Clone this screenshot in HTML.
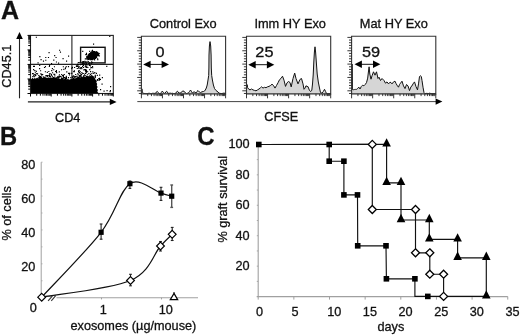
<!DOCTYPE html>
<html><head><meta charset="utf-8"><style>
html,body{margin:0;padding:0;background:#fff;}
svg{display:block;will-change:transform;}
text{font-family:"Liberation Sans", sans-serif;fill:#111;stroke:#111;stroke-width:0.3px;}
</style></head><body>
<svg width="520" height="335" viewBox="0 0 520 335">
<defs><filter id="bl" x="-5%" y="-5%" width="110%" height="110%"><feGaussianBlur stdDeviation="0.5"/></filter></defs>
<text x="1" y="19" font-size="25" text-anchor="start" font-weight="bold" >A</text>
<text transform="translate(11.2,66.2) rotate(-90)" font-size="12.7" text-anchor="middle">CD45.1</text>
<line x1="19.5" y1="38" x2="19.5" y2="98.3" stroke="#222" stroke-width="1.1"/>
<path d="M19.5,31.9 L16.2,38.9 L22.8,38.9 Z" fill="#000" stroke="none" stroke-width="1"/>
<line x1="27.9" y1="101.9" x2="110.5" y2="101.9" stroke="#222" stroke-width="1.1"/>
<path d="M116.6,101.9 L109.8,98.7 L109.8,105.1 Z" fill="#000" stroke="none" stroke-width="1"/>
<text x="67.7" y="121.8" font-size="12.7" text-anchor="middle" font-weight="normal" >CD4</text>
<line x1="30.5" y1="64.4" x2="113.3" y2="64.4" stroke="#222" stroke-width="1.1"/>
<line x1="71.9" y1="35.4" x2="71.9" y2="93.5" stroke="#222" stroke-width="1.1"/>
<path d="M31,93.5 L31,79.24 L32,78.47 L33,79.12 L34,79.03 L35,79.06 L36,78.38 L37,77.81 L38,78.18 L39,78.37 L40,77.33 L41,76.97 L42,77.24 L43,78.33 L44,77.07 L45,77.18 L46,77.14 L47,78.15 L48,77.34 L49,77.67 L50,77.59 L51,77.35 L52,77.91 L53,77.67 L54,77.92 L55,77.73 L56,77.42 L57,78.37 L58,78.03 L59,78.17 L60,79.13 L61,78.57 L62,78.36 L63,79.26 L64,79.29 L65,78.78 L66,79.11 L67,79.4 L68,78.85 L69,79.76 L70,79.42 L71,78.85 L72,79.26 L73,77.87 L74,77.97 L75,78.78 L76,78.09 L77,77.5 L78,77.94 L79,78.04 L80,77.74 L81,76.88 L82,76.79 L83,77.23 L84,76.6 L85,76.62 L86,77.13 L87,76.58 L88,75.82 L89,76.63 L90,75.62 L91,76.27 L92,75.82 L93.09,76 L93.64,77 L94.82,78 L95.06,79 L95.91,80 L97.1,81 L96.27,82 L96.64,83 L97.25,84 L96.78,85 L96.95,86 L97.82,87 L96.94,88 L97.1,89 L98.1,90 L97.35,91 L97.52,92 L98.39,93 L97.91,93.5 Z" fill="#000" stroke="none" stroke-width="1"/>
<path d="M109.2,35.79h1.15v1.15h-1.15zM91.89,49.72h1.15v1.15h-1.15zM82.17,50.85h1.15v1.15h-1.15zM89.12,50.78h1.15v1.15h-1.15zM91.01,50.72h1.15v1.15h-1.15zM92.21,50.75h1.15v1.15h-1.15zM93.16,51.06h1.15v1.15h-1.15zM94.08,50.97h1.15v1.15h-1.15zM96.15,51.08h1.15v1.15h-1.15zM90.06,52.22h1.15v1.15h-1.15zM90.7,52.01h1.15v1.15h-1.15zM92.16,51.74h1.15v1.15h-1.15zM93.19,51.98h1.15v1.15h-1.15zM94.28,51.89h1.15v1.15h-1.15zM94.94,51.79h1.15v1.15h-1.15zM96.04,52.27h1.15v1.15h-1.15zM97.09,51.89h1.15v1.15h-1.15zM85.9,52.82h1.15v1.15h-1.15zM88.8,52.99h1.15v1.15h-1.15zM90.15,52.96h1.15v1.15h-1.15zM90.91,53.29h1.15v1.15h-1.15zM91.77,53.18h1.15v1.15h-1.15zM93.17,52.71h1.15v1.15h-1.15zM93.8,52.97h1.15v1.15h-1.15zM95,52.8h1.15v1.15h-1.15zM95.87,52.73h1.15v1.15h-1.15zM96.78,52.98h1.15v1.15h-1.15zM98.05,52.87h1.15v1.15h-1.15zM98.9,53.15h1.15v1.15h-1.15zM85.25,54.07h1.15v1.15h-1.15zM86.04,53.98h1.15v1.15h-1.15zM88.11,54.3h1.15v1.15h-1.15zM89.19,53.95h1.15v1.15h-1.15zM90.24,54.3h1.15v1.15h-1.15zM90.97,54.27h1.15v1.15h-1.15zM93.26,53.94h1.15v1.15h-1.15zM94.15,53.98h1.15v1.15h-1.15zM94.93,53.96h1.15v1.15h-1.15zM95.74,54.15h1.15v1.15h-1.15zM97.1,54.18h1.15v1.15h-1.15zM97.84,53.87h1.15v1.15h-1.15zM89.01,55.06h1.15v1.15h-1.15zM89.9,54.9h1.15v1.15h-1.15zM90.72,55.03h1.15v1.15h-1.15zM91.82,54.9h1.15v1.15h-1.15zM92.72,55.26h1.15v1.15h-1.15zM93.82,55.13h1.15v1.15h-1.15zM94.85,55.28h1.15v1.15h-1.15zM96.08,54.76h1.15v1.15h-1.15zM96.72,54.83h1.15v1.15h-1.15zM97.78,55.08h1.15v1.15h-1.15zM98.79,55.24h1.15v1.15h-1.15zM86.22,55.94h1.15v1.15h-1.15zM87,55.7h1.15v1.15h-1.15zM87.82,56.13h1.15v1.15h-1.15zM89.22,56.24h1.15v1.15h-1.15zM89.87,56.26h1.15v1.15h-1.15zM90.76,55.73h1.15v1.15h-1.15zM92.73,56.01h1.15v1.15h-1.15zM93.96,56.27h1.15v1.15h-1.15zM95.79,55.94h1.15v1.15h-1.15zM86.18,56.87h1.15v1.15h-1.15zM86.9,57.06h1.15v1.15h-1.15zM89.18,57.03h1.15v1.15h-1.15zM89.91,56.74h1.15v1.15h-1.15zM91.07,56.76h1.15v1.15h-1.15zM92.28,57.29h1.15v1.15h-1.15zM93.18,56.81h1.15v1.15h-1.15zM95.22,57.23h1.15v1.15h-1.15zM96.01,56.82h1.15v1.15h-1.15zM84.78,58.29h1.15v1.15h-1.15zM85.88,58.28h1.15v1.15h-1.15zM86.8,57.83h1.15v1.15h-1.15zM87.98,58.06h1.15v1.15h-1.15zM88.77,58.19h1.15v1.15h-1.15zM90.04,57.78h1.15v1.15h-1.15zM91.08,57.96h1.15v1.15h-1.15zM91.93,58.01h1.15v1.15h-1.15zM93.04,58.16h1.15v1.15h-1.15zM93.85,58.3h1.15v1.15h-1.15zM94.95,57.95h1.15v1.15h-1.15zM97.08,58.13h1.15v1.15h-1.15zM87.22,59.09h1.15v1.15h-1.15zM88.17,58.87h1.15v1.15h-1.15zM89.77,59.15h1.15v1.15h-1.15zM90.79,59.01h1.15v1.15h-1.15zM92.03,59.15h1.15v1.15h-1.15zM94.06,59.29h1.15v1.15h-1.15zM97.22,59.05h1.15v1.15h-1.15zM79.99,61h1.15v1.15h-1.15zM82.01,61.25h1.15v1.15h-1.15zM82.86,61.03h1.15v1.15h-1.15zM84.26,60.75h1.15v1.15h-1.15zM84.75,61.13h1.15v1.15h-1.15zM86.24,61.24h1.15v1.15h-1.15zM87.7,60.93h1.15v1.15h-1.15zM91.12,61.25h1.15v1.15h-1.15zM77.76,62h1.15v1.15h-1.15zM79,62.14h1.15v1.15h-1.15zM81.84,62.24h1.15v1.15h-1.15zM83.02,61.73h1.15v1.15h-1.15zM84.95,62.03h1.15v1.15h-1.15zM88.75,62.12h1.15v1.15h-1.15zM91.16,61.81h1.15v1.15h-1.15zM92.01,62.07h1.15v1.15h-1.15zM82.12,62.86h1.15v1.15h-1.15zM83.11,62.82h1.15v1.15h-1.15zM84.17,63.19h1.15v1.15h-1.15zM86.09,62.75h1.15v1.15h-1.15zM88.07,62.97h1.15v1.15h-1.15zM89.14,62.98h1.15v1.15h-1.15zM90.75,63.03h1.15v1.15h-1.15zM77,63.83h1.15v1.15h-1.15zM77.74,64.09h1.15v1.15h-1.15zM79.76,64.07h1.15v1.15h-1.15zM81.23,63.77h1.15v1.15h-1.15zM82,63.77h1.15v1.15h-1.15zM82.87,64.13h1.15v1.15h-1.15zM85.17,63.78h1.15v1.15h-1.15zM85.96,63.87h1.15v1.15h-1.15zM88.88,64.19h1.15v1.15h-1.15zM39.12,64.97h1.15v1.15h-1.15zM48.98,64.84h1.15v1.15h-1.15zM75.94,65.27h1.15v1.15h-1.15zM77.15,65.22h1.15v1.15h-1.15zM82.88,64.88h1.15v1.15h-1.15zM84.84,65.26h1.15v1.15h-1.15zM86.28,65.21h1.15v1.15h-1.15zM88.76,64.76h1.15v1.15h-1.15zM89.94,65.25h1.15v1.15h-1.15zM33,65.84h1.15v1.15h-1.15zM33.82,65.85h1.15v1.15h-1.15zM44.87,65.99h1.15v1.15h-1.15zM48.81,65.89h1.15v1.15h-1.15zM53.88,66.18h1.15v1.15h-1.15zM62.78,66.21h1.15v1.15h-1.15zM65.92,66.18h1.15v1.15h-1.15zM67.94,66.08h1.15v1.15h-1.15zM75.84,65.74h1.15v1.15h-1.15zM76.82,65.95h1.15v1.15h-1.15zM77.92,66.19h1.15v1.15h-1.15zM78.76,66.18h1.15v1.15h-1.15zM82.03,65.83h1.15v1.15h-1.15zM84.71,66.23h1.15v1.15h-1.15zM86.09,66.21h1.15v1.15h-1.15zM91.99,65.9h1.15v1.15h-1.15zM106.2,65.87h1.15v1.15h-1.15zM43.94,66.97h1.15v1.15h-1.15zM64.94,66.71h1.15v1.15h-1.15zM71.82,66.86h1.15v1.15h-1.15zM74.02,66.91h1.15v1.15h-1.15zM78.12,67.14h1.15v1.15h-1.15zM80.27,67.05h1.15v1.15h-1.15zM80.96,67.01h1.15v1.15h-1.15zM82.86,66.92h1.15v1.15h-1.15zM85.97,66.82h1.15v1.15h-1.15zM87.29,66.88h1.15v1.15h-1.15zM90.24,67.26h1.15v1.15h-1.15zM90.95,66.92h1.15v1.15h-1.15zM92.1,67.17h1.15v1.15h-1.15zM39.05,68h1.15v1.15h-1.15zM51.82,68.02h1.15v1.15h-1.15zM64.82,68.1h1.15v1.15h-1.15zM71.23,67.76h1.15v1.15h-1.15zM76.72,67.97h1.15v1.15h-1.15zM78.28,67.7h1.15v1.15h-1.15zM79.71,68h1.15v1.15h-1.15zM81.24,68.11h1.15v1.15h-1.15zM33.06,69.03h1.15v1.15h-1.15zM53.14,69.18h1.15v1.15h-1.15zM60.96,69.13h1.15v1.15h-1.15zM63.27,68.85h1.15v1.15h-1.15zM83.29,69.28h1.15v1.15h-1.15zM84.27,69.02h1.15v1.15h-1.15zM85.19,68.96h1.15v1.15h-1.15zM89.19,69.12h1.15v1.15h-1.15zM34.28,70h1.15v1.15h-1.15zM40.02,70.15h1.15v1.15h-1.15zM51.16,69.98h1.15v1.15h-1.15zM55.87,69.99h1.15v1.15h-1.15zM73.8,70.16h1.15v1.15h-1.15zM78.15,70.14h1.15v1.15h-1.15zM78.86,70.18h1.15v1.15h-1.15zM85,69.84h1.15v1.15h-1.15zM85.93,69.74h1.15v1.15h-1.15zM35.74,70.84h1.15v1.15h-1.15zM44.82,71.17h1.15v1.15h-1.15zM48.24,70.93h1.15v1.15h-1.15zM55.06,70.91h1.15v1.15h-1.15zM55.78,70.99h1.15v1.15h-1.15zM58.71,71.3h1.15v1.15h-1.15zM66.2,71.29h1.15v1.15h-1.15zM73.17,71.1h1.15v1.15h-1.15zM73.74,71.14h1.15v1.15h-1.15zM77.96,70.77h1.15v1.15h-1.15zM79.81,71.16h1.15v1.15h-1.15zM85.12,70.77h1.15v1.15h-1.15zM85.97,70.77h1.15v1.15h-1.15zM87.09,71.15h1.15v1.15h-1.15zM90.01,71.05h1.15v1.15h-1.15zM92.25,71.29h1.15v1.15h-1.15zM34.77,72.21h1.15v1.15h-1.15zM46.75,71.81h1.15v1.15h-1.15zM51.98,72.22h1.15v1.15h-1.15zM56.08,71.99h1.15v1.15h-1.15zM78.29,72.18h1.15v1.15h-1.15zM78.85,72.04h1.15v1.15h-1.15zM81.28,71.91h1.15v1.15h-1.15zM85.75,72.08h1.15v1.15h-1.15zM94.22,72.12h1.15v1.15h-1.15zM31.99,73.06h1.15v1.15h-1.15zM32.88,73.24h1.15v1.15h-1.15zM36.16,72.97h1.15v1.15h-1.15zM36.99,73.25h1.15v1.15h-1.15zM40.24,73.29h1.15v1.15h-1.15zM48.85,73.27h1.15v1.15h-1.15zM50.14,73.17h1.15v1.15h-1.15zM68.02,72.77h1.15v1.15h-1.15zM69.16,72.74h1.15v1.15h-1.15zM71.21,72.75h1.15v1.15h-1.15zM77.1,73.15h1.15v1.15h-1.15zM79.75,73.16h1.15v1.15h-1.15zM81.71,73.02h1.15v1.15h-1.15zM83.15,72.9h1.15v1.15h-1.15zM85,72.76h1.15v1.15h-1.15zM88.28,73.11h1.15v1.15h-1.15zM91.27,72.88h1.15v1.15h-1.15zM93.14,72.87h1.15v1.15h-1.15zM95.83,72.76h1.15v1.15h-1.15zM34.16,74.02h1.15v1.15h-1.15zM35.29,74.27h1.15v1.15h-1.15zM41.07,73.74h1.15v1.15h-1.15zM42.13,73.91h1.15v1.15h-1.15zM50.86,73.93h1.15v1.15h-1.15zM53.22,73.72h1.15v1.15h-1.15zM54.16,73.83h1.15v1.15h-1.15zM58.86,74.29h1.15v1.15h-1.15zM61.12,73.93h1.15v1.15h-1.15zM63.71,73.88h1.15v1.15h-1.15zM68.91,74.24h1.15v1.15h-1.15zM75.09,73.93h1.15v1.15h-1.15zM77.71,74.16h1.15v1.15h-1.15zM80.84,74.06h1.15v1.15h-1.15zM84.06,74.27h1.15v1.15h-1.15zM86.86,74.22h1.15v1.15h-1.15zM89.87,73.84h1.15v1.15h-1.15zM33.2,75.03h1.15v1.15h-1.15zM34.98,75.12h1.15v1.15h-1.15zM38.2,75.04h1.15v1.15h-1.15zM41.25,75.23h1.15v1.15h-1.15zM45.16,75.23h1.15v1.15h-1.15zM46.15,75.12h1.15v1.15h-1.15zM47.25,74.99h1.15v1.15h-1.15zM47.72,75.17h1.15v1.15h-1.15zM49.01,74.82h1.15v1.15h-1.15zM51.18,75.1h1.15v1.15h-1.15zM54.23,75.26h1.15v1.15h-1.15zM61.96,75h1.15v1.15h-1.15zM62.94,74.87h1.15v1.15h-1.15zM72.71,75.28h1.15v1.15h-1.15zM78.97,75.1h1.15v1.15h-1.15zM80.13,74.86h1.15v1.15h-1.15zM83.29,75.08h1.15v1.15h-1.15zM84.77,75.13h1.15v1.15h-1.15zM89.23,75.23h1.15v1.15h-1.15zM91.12,74.85h1.15v1.15h-1.15zM94.7,74.82h1.15v1.15h-1.15zM96.74,74.85h1.15v1.15h-1.15zM32.22,76.07h1.15v1.15h-1.15zM33.81,76.21h1.15v1.15h-1.15zM39.07,75.87h1.15v1.15h-1.15zM39.98,76.04h1.15v1.15h-1.15zM43.19,76.22h1.15v1.15h-1.15zM46.76,75.86h1.15v1.15h-1.15zM48.95,75.94h1.15v1.15h-1.15zM49.76,75.73h1.15v1.15h-1.15zM51.97,76.26h1.15v1.15h-1.15zM56.93,76.27h1.15v1.15h-1.15zM58.27,75.81h1.15v1.15h-1.15zM59.24,75.95h1.15v1.15h-1.15zM60.26,75.83h1.15v1.15h-1.15zM62.84,76.01h1.15v1.15h-1.15zM65.73,75.79h1.15v1.15h-1.15zM71.85,76.3h1.15v1.15h-1.15zM73.27,76h1.15v1.15h-1.15zM73.7,75.83h1.15v1.15h-1.15zM74.96,75.97h1.15v1.15h-1.15zM75.98,75.72h1.15v1.15h-1.15zM77.28,75.72h1.15v1.15h-1.15zM79.12,75.9h1.15v1.15h-1.15zM80.01,76.25h1.15v1.15h-1.15zM80.75,75.72h1.15v1.15h-1.15zM82.77,76.06h1.15v1.15h-1.15zM85.94,75.86h1.15v1.15h-1.15zM87.28,75.98h1.15v1.15h-1.15zM93.23,76.29h1.15v1.15h-1.15zM94.81,76.02h1.15v1.15h-1.15zM37.83,77.14h1.15v1.15h-1.15zM39.02,76.86h1.15v1.15h-1.15zM40.2,77.1h1.15v1.15h-1.15zM40.86,77.18h1.15v1.15h-1.15zM43.22,77.12h1.15v1.15h-1.15zM52.98,77.06h1.15v1.15h-1.15zM54.17,77.13h1.15v1.15h-1.15zM55.98,77.25h1.15v1.15h-1.15zM57.2,76.95h1.15v1.15h-1.15zM57.87,76.83h1.15v1.15h-1.15zM58.8,77.2h1.15v1.15h-1.15zM60.73,76.7h1.15v1.15h-1.15zM63.11,76.88h1.15v1.15h-1.15zM63.85,77.11h1.15v1.15h-1.15zM65.22,77.04h1.15v1.15h-1.15zM65.83,77.09h1.15v1.15h-1.15zM67.9,76.98h1.15v1.15h-1.15zM70.2,77.08h1.15v1.15h-1.15zM72.11,76.99h1.15v1.15h-1.15zM73.89,77.22h1.15v1.15h-1.15zM75.21,77.26h1.15v1.15h-1.15zM77.15,77.1h1.15v1.15h-1.15zM78.22,76.99h1.15v1.15h-1.15zM78.74,76.84h1.15v1.15h-1.15zM94.71,77.07h1.15v1.15h-1.15zM101.79,77.05h1.15v1.15h-1.15zM32.13,78.08h1.15v1.15h-1.15zM34.23,77.93h1.15v1.15h-1.15zM60.97,78.08h1.15v1.15h-1.15zM62.02,77.76h1.15v1.15h-1.15zM63.07,78.28h1.15v1.15h-1.15zM64.79,78.01h1.15v1.15h-1.15zM65.93,78.16h1.15v1.15h-1.15zM97.97,78.17h1.15v1.15h-1.15zM99.06,77.73h1.15v1.15h-1.15zM96.85,79.07h1.15v1.15h-1.15zM99.04,79.08h1.15v1.15h-1.15zM99.86,78.88h1.15v1.15h-1.15zM97.17,79.74h1.15v1.15h-1.15zM110.02,86.08h1.15v1.15h-1.15zM109.86,90.06h1.15v1.15h-1.15zM35.8,36.7h1.15v1.15h-1.15zM39.3,56h1.15v1.15h-1.15zM45.2,56.9h1.15v1.15h-1.15zM47.9,56.9h1.15v1.15h-1.15zM42.9,60.6h1.15v1.15h-1.15zM45.2,59.7h1.15v1.15h-1.15zM54.1,55.1h1.15v1.15h-1.15zM55.5,56.9h1.15v1.15h-1.15zM53.2,59.6h1.15v1.15h-1.15zM59,49.7h1.15v1.15h-1.15zM59.9,51.5h1.15v1.15h-1.15zM55.9,61.4h1.15v1.15h-1.15zM51,63.1h1.15v1.15h-1.15zM37.5,62.3h1.15v1.15h-1.15zM62.5,58h1.15v1.15h-1.15zM66,60.5h1.15v1.15h-1.15zM48.5,52h1.15v1.15h-1.15zM68,55.5h1.15v1.15h-1.15zM40.5,59h1.15v1.15h-1.15zM58,62.5h1.15v1.15h-1.15zM93,43.5h1.15v1.15h-1.15zM100,89h1.15v1.15h-1.15zM103.5,90.5h1.15v1.15h-1.15zM106.5,90h1.15v1.15h-1.15zM109.5,91h1.15v1.15h-1.15zM98.7,79.5h1.15v1.15h-1.15zM99.1,74.5h1.15v1.15h-1.15zM101.5,83.5h1.15v1.15h-1.15z" fill="#000" filter="url(#bl)"/>
<ellipse cx="92.6" cy="55.7" rx="5.7" ry="3.8" transform="rotate(-25 92.6 55.7)" fill="#000"/>
<rect x="30.5" y="35.4" width="82.8" height="58.1" fill="none" stroke="#222" stroke-width="1.1"/>
<rect x="80.6" y="47.3" width="24.5" height="15.6" fill="none" stroke="#111" stroke-width="1.4"/>
<line x1="27.5" y1="93.5" x2="30.5" y2="93.5" stroke="#000" stroke-width="1.0"/>
<line x1="28.2" y1="89.13" x2="30.5" y2="89.13" stroke="#000" stroke-width="1.0"/>
<line x1="28.2" y1="86.57" x2="30.5" y2="86.57" stroke="#000" stroke-width="1.0"/>
<line x1="28.2" y1="84.76" x2="30.5" y2="84.76" stroke="#000" stroke-width="1.0"/>
<line x1="28.2" y1="83.35" x2="30.5" y2="83.35" stroke="#000" stroke-width="1.0"/>
<line x1="28.2" y1="82.2" x2="30.5" y2="82.2" stroke="#000" stroke-width="1.0"/>
<line x1="28.2" y1="81.22" x2="30.5" y2="81.22" stroke="#000" stroke-width="1.0"/>
<line x1="28.2" y1="80.38" x2="30.5" y2="80.38" stroke="#000" stroke-width="1.0"/>
<line x1="28.2" y1="79.64" x2="30.5" y2="79.64" stroke="#000" stroke-width="1.0"/>
<line x1="27.5" y1="78.97" x2="30.5" y2="78.97" stroke="#000" stroke-width="1.0"/>
<line x1="28.2" y1="74.6" x2="30.5" y2="74.6" stroke="#000" stroke-width="1.0"/>
<line x1="28.2" y1="72.04" x2="30.5" y2="72.04" stroke="#000" stroke-width="1.0"/>
<line x1="28.2" y1="70.23" x2="30.5" y2="70.23" stroke="#000" stroke-width="1.0"/>
<line x1="28.2" y1="68.82" x2="30.5" y2="68.82" stroke="#000" stroke-width="1.0"/>
<line x1="28.2" y1="67.67" x2="30.5" y2="67.67" stroke="#000" stroke-width="1.0"/>
<line x1="28.2" y1="66.7" x2="30.5" y2="66.7" stroke="#000" stroke-width="1.0"/>
<line x1="28.2" y1="65.86" x2="30.5" y2="65.86" stroke="#000" stroke-width="1.0"/>
<line x1="28.2" y1="65.11" x2="30.5" y2="65.11" stroke="#000" stroke-width="1.0"/>
<line x1="27.5" y1="64.45" x2="30.5" y2="64.45" stroke="#000" stroke-width="1.0"/>
<line x1="28.2" y1="60.08" x2="30.5" y2="60.08" stroke="#000" stroke-width="1.0"/>
<line x1="28.2" y1="57.52" x2="30.5" y2="57.52" stroke="#000" stroke-width="1.0"/>
<line x1="28.2" y1="55.71" x2="30.5" y2="55.71" stroke="#000" stroke-width="1.0"/>
<line x1="28.2" y1="54.3" x2="30.5" y2="54.3" stroke="#000" stroke-width="1.0"/>
<line x1="28.2" y1="53.15" x2="30.5" y2="53.15" stroke="#000" stroke-width="1.0"/>
<line x1="28.2" y1="52.17" x2="30.5" y2="52.17" stroke="#000" stroke-width="1.0"/>
<line x1="28.2" y1="51.33" x2="30.5" y2="51.33" stroke="#000" stroke-width="1.0"/>
<line x1="28.2" y1="50.59" x2="30.5" y2="50.59" stroke="#000" stroke-width="1.0"/>
<line x1="27.5" y1="49.92" x2="30.5" y2="49.92" stroke="#000" stroke-width="1.0"/>
<line x1="28.2" y1="45.55" x2="30.5" y2="45.55" stroke="#000" stroke-width="1.0"/>
<line x1="28.2" y1="42.99" x2="30.5" y2="42.99" stroke="#000" stroke-width="1.0"/>
<line x1="28.2" y1="41.18" x2="30.5" y2="41.18" stroke="#000" stroke-width="1.0"/>
<line x1="28.2" y1="39.77" x2="30.5" y2="39.77" stroke="#000" stroke-width="1.0"/>
<line x1="28.2" y1="38.62" x2="30.5" y2="38.62" stroke="#000" stroke-width="1.0"/>
<line x1="28.2" y1="37.65" x2="30.5" y2="37.65" stroke="#000" stroke-width="1.0"/>
<line x1="28.2" y1="36.81" x2="30.5" y2="36.81" stroke="#000" stroke-width="1.0"/>
<line x1="28.2" y1="36.06" x2="30.5" y2="36.06" stroke="#000" stroke-width="1.0"/>
<line x1="27.5" y1="35.4" x2="30.5" y2="35.4" stroke="#000" stroke-width="1.0"/>
<line x1="30.5" y1="93.5" x2="30.5" y2="96.5" stroke="#000" stroke-width="1.0"/>
<line x1="36.73" y1="93.5" x2="36.73" y2="95.7" stroke="#000" stroke-width="1.0"/>
<line x1="40.38" y1="93.5" x2="40.38" y2="95.7" stroke="#000" stroke-width="1.0"/>
<line x1="42.96" y1="93.5" x2="42.96" y2="95.7" stroke="#000" stroke-width="1.0"/>
<line x1="44.97" y1="93.5" x2="44.97" y2="95.7" stroke="#000" stroke-width="1.0"/>
<line x1="46.61" y1="93.5" x2="46.61" y2="95.7" stroke="#000" stroke-width="1.0"/>
<line x1="47.99" y1="93.5" x2="47.99" y2="95.7" stroke="#000" stroke-width="1.0"/>
<line x1="49.19" y1="93.5" x2="49.19" y2="95.7" stroke="#000" stroke-width="1.0"/>
<line x1="50.25" y1="93.5" x2="50.25" y2="95.7" stroke="#000" stroke-width="1.0"/>
<line x1="51.2" y1="93.5" x2="51.2" y2="96.5" stroke="#000" stroke-width="1.0"/>
<line x1="57.43" y1="93.5" x2="57.43" y2="95.7" stroke="#000" stroke-width="1.0"/>
<line x1="61.08" y1="93.5" x2="61.08" y2="95.7" stroke="#000" stroke-width="1.0"/>
<line x1="63.66" y1="93.5" x2="63.66" y2="95.7" stroke="#000" stroke-width="1.0"/>
<line x1="65.67" y1="93.5" x2="65.67" y2="95.7" stroke="#000" stroke-width="1.0"/>
<line x1="67.31" y1="93.5" x2="67.31" y2="95.7" stroke="#000" stroke-width="1.0"/>
<line x1="68.69" y1="93.5" x2="68.69" y2="95.7" stroke="#000" stroke-width="1.0"/>
<line x1="69.89" y1="93.5" x2="69.89" y2="95.7" stroke="#000" stroke-width="1.0"/>
<line x1="70.95" y1="93.5" x2="70.95" y2="95.7" stroke="#000" stroke-width="1.0"/>
<line x1="71.9" y1="93.5" x2="71.9" y2="96.5" stroke="#000" stroke-width="1.0"/>
<line x1="78.13" y1="93.5" x2="78.13" y2="95.7" stroke="#000" stroke-width="1.0"/>
<line x1="81.78" y1="93.5" x2="81.78" y2="95.7" stroke="#000" stroke-width="1.0"/>
<line x1="84.36" y1="93.5" x2="84.36" y2="95.7" stroke="#000" stroke-width="1.0"/>
<line x1="86.37" y1="93.5" x2="86.37" y2="95.7" stroke="#000" stroke-width="1.0"/>
<line x1="88.01" y1="93.5" x2="88.01" y2="95.7" stroke="#000" stroke-width="1.0"/>
<line x1="89.39" y1="93.5" x2="89.39" y2="95.7" stroke="#000" stroke-width="1.0"/>
<line x1="90.59" y1="93.5" x2="90.59" y2="95.7" stroke="#000" stroke-width="1.0"/>
<line x1="91.65" y1="93.5" x2="91.65" y2="95.7" stroke="#000" stroke-width="1.0"/>
<line x1="92.6" y1="93.5" x2="92.6" y2="96.5" stroke="#000" stroke-width="1.0"/>
<line x1="98.83" y1="93.5" x2="98.83" y2="95.7" stroke="#000" stroke-width="1.0"/>
<line x1="102.48" y1="93.5" x2="102.48" y2="95.7" stroke="#000" stroke-width="1.0"/>
<line x1="105.06" y1="93.5" x2="105.06" y2="95.7" stroke="#000" stroke-width="1.0"/>
<line x1="107.07" y1="93.5" x2="107.07" y2="95.7" stroke="#000" stroke-width="1.0"/>
<line x1="108.71" y1="93.5" x2="108.71" y2="95.7" stroke="#000" stroke-width="1.0"/>
<line x1="110.09" y1="93.5" x2="110.09" y2="95.7" stroke="#000" stroke-width="1.0"/>
<line x1="111.29" y1="93.5" x2="111.29" y2="95.7" stroke="#000" stroke-width="1.0"/>
<line x1="112.35" y1="93.5" x2="112.35" y2="95.7" stroke="#000" stroke-width="1.0"/>
<line x1="113.3" y1="93.5" x2="113.3" y2="96.5" stroke="#000" stroke-width="1.0"/>
<text x="183.1" y="28.4" font-size="12.8" text-anchor="middle" font-weight="normal" >Control Exo</text>
<text transform="translate(160,56.9) scale(1.05,1)" font-size="15.5" text-anchor="middle">0</text>
<path d="M142.1,88.8 L142.3,92 L143.8,93.7 L144.76,93.45 L145.72,93.6 L146.68,93.6 L147.63,93.6 L148.59,93.32 L149.55,93.3 L150.51,93.6 L151.47,93.6 L152.43,93.31 L153.38,93.29 L154.34,93.34 L155.3,93.7 L156.3,92.04 L157.3,91.4 L158.25,92.44 L159.2,93.7 L160.4,93.7 L161.35,92.4 L162.3,91.1 L163.25,92.38 L164.2,93.3 L164.8,93.3 L166.5,91.3 L167.4,91.88 L168.3,93.7 L169.33,93.27 L170.36,93.16 L171.39,93.38 L172.41,93.26 L173.44,93.6 L174.47,93.52 L175.5,93.7 L176.45,91.94 L177.4,91.2 L179,93 L180,93.13 L181,92.8 L182.5,91 L184,91.2 L185.5,93 L186.5,93.6 L187.5,93.28 L188.5,92.8 L189.5,91.61 L190.5,90 L191.4,91.33 L192.3,93 L194,91.8 L195,92.26 L196,93 L197,91.47 L198,90.5 L199.25,91.93 L200.5,92.5 L202,91.8 L203.5,91.5 L204.4,91.17 L205.3,90 L206.3,88 L207.2,85 L208,80 L208.7,75.5 L208.9,68 L209,55 L209.4,46 L210,41.6 L210.7,46 L211.1,55 L211.3,68 L211.7,75.5 L212.4,80 L213.4,85 L214.5,88.5 L216,90.5 L217,91.24 L218,92 L219,93.16 L220,93.3 L221,93.58 L222,93.6 L223,93.18 L224,93.2 L225,93.25 L226,93.7 L225.6,93.9 L141.4,93.9 Z" fill="#d6d6d6" stroke="none" stroke-width="1"/>
<path d="M142.1,88.8 L142.3,92 L143.8,93.7 L144.76,93.45 L145.72,93.6 L146.68,93.6 L147.63,93.6 L148.59,93.32 L149.55,93.3 L150.51,93.6 L151.47,93.6 L152.43,93.31 L153.38,93.29 L154.34,93.34 L155.3,93.7 L156.3,92.04 L157.3,91.4 L158.25,92.44 L159.2,93.7 L160.4,93.7 L161.35,92.4 L162.3,91.1 L163.25,92.38 L164.2,93.3 L164.8,93.3 L166.5,91.3 L167.4,91.88 L168.3,93.7 L169.33,93.27 L170.36,93.16 L171.39,93.38 L172.41,93.26 L173.44,93.6 L174.47,93.52 L175.5,93.7 L176.45,91.94 L177.4,91.2 L179,93 L180,93.13 L181,92.8 L182.5,91 L184,91.2 L185.5,93 L186.5,93.6 L187.5,93.28 L188.5,92.8 L189.5,91.61 L190.5,90 L191.4,91.33 L192.3,93 L194,91.8 L195,92.26 L196,93 L197,91.47 L198,90.5 L199.25,91.93 L200.5,92.5 L202,91.8 L203.5,91.5 L204.4,91.17 L205.3,90 L206.3,88 L207.2,85 L208,80 L208.7,75.5 L208.9,68 L209,55 L209.4,46 L210,41.6 L210.7,46 L211.1,55 L211.3,68 L211.7,75.5 L212.4,80 L213.4,85 L214.5,88.5 L216,90.5 L217,91.24 L218,92 L219,93.16 L220,93.3 L221,93.58 L222,93.6 L223,93.18 L224,93.2 L225,93.25 L226,93.7" fill="none" stroke="#111" stroke-width="1.0"/>
<path d="M141.4,93.9 V36.3 H225.6 V93.9 Z" fill="none" stroke="#333" stroke-width="1.1"/>
<line x1="137.2" y1="37.4" x2="141.4" y2="37.4" stroke="#222" stroke-width="0.9"/>
<line x1="138.8" y1="40.07" x2="141.4" y2="40.07" stroke="#222" stroke-width="0.9"/>
<line x1="138.8" y1="42.74" x2="141.4" y2="42.74" stroke="#222" stroke-width="0.9"/>
<line x1="138.8" y1="45.41" x2="141.4" y2="45.41" stroke="#222" stroke-width="0.9"/>
<line x1="138.8" y1="48.08" x2="141.4" y2="48.08" stroke="#222" stroke-width="0.9"/>
<line x1="137.2" y1="50.75" x2="141.4" y2="50.75" stroke="#222" stroke-width="0.9"/>
<line x1="138.8" y1="53.42" x2="141.4" y2="53.42" stroke="#222" stroke-width="0.9"/>
<line x1="138.8" y1="56.09" x2="141.4" y2="56.09" stroke="#222" stroke-width="0.9"/>
<line x1="138.8" y1="58.76" x2="141.4" y2="58.76" stroke="#222" stroke-width="0.9"/>
<line x1="138.8" y1="61.43" x2="141.4" y2="61.43" stroke="#222" stroke-width="0.9"/>
<line x1="137.2" y1="64.1" x2="141.4" y2="64.1" stroke="#222" stroke-width="0.9"/>
<line x1="138.8" y1="66.77" x2="141.4" y2="66.77" stroke="#222" stroke-width="0.9"/>
<line x1="138.8" y1="69.44" x2="141.4" y2="69.44" stroke="#222" stroke-width="0.9"/>
<line x1="138.8" y1="72.11" x2="141.4" y2="72.11" stroke="#222" stroke-width="0.9"/>
<line x1="138.8" y1="74.78" x2="141.4" y2="74.78" stroke="#222" stroke-width="0.9"/>
<line x1="137.2" y1="77.45" x2="141.4" y2="77.45" stroke="#222" stroke-width="0.9"/>
<line x1="138.8" y1="80.12" x2="141.4" y2="80.12" stroke="#222" stroke-width="0.9"/>
<line x1="138.8" y1="82.79" x2="141.4" y2="82.79" stroke="#222" stroke-width="0.9"/>
<line x1="138.8" y1="85.46" x2="141.4" y2="85.46" stroke="#222" stroke-width="0.9"/>
<line x1="138.8" y1="88.13" x2="141.4" y2="88.13" stroke="#222" stroke-width="0.9"/>
<line x1="137.2" y1="90.8" x2="141.4" y2="90.8" stroke="#222" stroke-width="0.9"/>
<line x1="138.8" y1="93.47" x2="141.4" y2="93.47" stroke="#222" stroke-width="0.9"/>
<line x1="141.4" y1="93.9" x2="141.4" y2="98.3" stroke="#222" stroke-width="0.9"/>
<line x1="147.74" y1="93.9" x2="147.74" y2="96.1" stroke="#222" stroke-width="0.9"/>
<line x1="151.44" y1="93.9" x2="151.44" y2="96.1" stroke="#222" stroke-width="0.9"/>
<line x1="154.07" y1="93.9" x2="154.07" y2="96.1" stroke="#222" stroke-width="0.9"/>
<line x1="156.11" y1="93.9" x2="156.11" y2="96.1" stroke="#222" stroke-width="0.9"/>
<line x1="157.78" y1="93.9" x2="157.78" y2="96.1" stroke="#222" stroke-width="0.9"/>
<line x1="159.19" y1="93.9" x2="159.19" y2="96.1" stroke="#222" stroke-width="0.9"/>
<line x1="160.41" y1="93.9" x2="160.41" y2="96.1" stroke="#222" stroke-width="0.9"/>
<line x1="161.49" y1="93.9" x2="161.49" y2="96.1" stroke="#222" stroke-width="0.9"/>
<line x1="162.45" y1="93.9" x2="162.45" y2="98.3" stroke="#222" stroke-width="0.9"/>
<line x1="168.79" y1="93.9" x2="168.79" y2="96.1" stroke="#222" stroke-width="0.9"/>
<line x1="172.49" y1="93.9" x2="172.49" y2="96.1" stroke="#222" stroke-width="0.9"/>
<line x1="175.12" y1="93.9" x2="175.12" y2="96.1" stroke="#222" stroke-width="0.9"/>
<line x1="177.16" y1="93.9" x2="177.16" y2="96.1" stroke="#222" stroke-width="0.9"/>
<line x1="178.83" y1="93.9" x2="178.83" y2="96.1" stroke="#222" stroke-width="0.9"/>
<line x1="180.24" y1="93.9" x2="180.24" y2="96.1" stroke="#222" stroke-width="0.9"/>
<line x1="181.46" y1="93.9" x2="181.46" y2="96.1" stroke="#222" stroke-width="0.9"/>
<line x1="182.54" y1="93.9" x2="182.54" y2="96.1" stroke="#222" stroke-width="0.9"/>
<line x1="183.5" y1="93.9" x2="183.5" y2="98.3" stroke="#222" stroke-width="0.9"/>
<line x1="189.84" y1="93.9" x2="189.84" y2="96.1" stroke="#222" stroke-width="0.9"/>
<line x1="193.54" y1="93.9" x2="193.54" y2="96.1" stroke="#222" stroke-width="0.9"/>
<line x1="196.17" y1="93.9" x2="196.17" y2="96.1" stroke="#222" stroke-width="0.9"/>
<line x1="198.21" y1="93.9" x2="198.21" y2="96.1" stroke="#222" stroke-width="0.9"/>
<line x1="199.88" y1="93.9" x2="199.88" y2="96.1" stroke="#222" stroke-width="0.9"/>
<line x1="201.29" y1="93.9" x2="201.29" y2="96.1" stroke="#222" stroke-width="0.9"/>
<line x1="202.51" y1="93.9" x2="202.51" y2="96.1" stroke="#222" stroke-width="0.9"/>
<line x1="203.59" y1="93.9" x2="203.59" y2="96.1" stroke="#222" stroke-width="0.9"/>
<line x1="204.55" y1="93.9" x2="204.55" y2="98.3" stroke="#222" stroke-width="0.9"/>
<line x1="210.89" y1="93.9" x2="210.89" y2="96.1" stroke="#222" stroke-width="0.9"/>
<line x1="214.59" y1="93.9" x2="214.59" y2="96.1" stroke="#222" stroke-width="0.9"/>
<line x1="217.22" y1="93.9" x2="217.22" y2="96.1" stroke="#222" stroke-width="0.9"/>
<line x1="219.26" y1="93.9" x2="219.26" y2="96.1" stroke="#222" stroke-width="0.9"/>
<line x1="220.93" y1="93.9" x2="220.93" y2="96.1" stroke="#222" stroke-width="0.9"/>
<line x1="222.34" y1="93.9" x2="222.34" y2="96.1" stroke="#222" stroke-width="0.9"/>
<line x1="223.56" y1="93.9" x2="223.56" y2="96.1" stroke="#222" stroke-width="0.9"/>
<line x1="224.64" y1="93.9" x2="224.64" y2="96.1" stroke="#222" stroke-width="0.9"/>
<line x1="225.6" y1="93.9" x2="225.6" y2="98.3" stroke="#222" stroke-width="0.9"/>
<line x1="148.2" y1="64.4" x2="164" y2="64.4" stroke="#111" stroke-width="1.0"/>
<path d="M143.2,64.4 L150.6,60.7 L150.6,68.1 Z" fill="#000" stroke="none" stroke-width="1"/>
<path d="M169,64.4 L161.6,60.7 L161.6,68.1 Z" fill="#000" stroke="none" stroke-width="1"/>
<text x="290.2" y="28.4" font-size="12.8" text-anchor="middle" font-weight="normal" >Imm HY Exo</text>
<text transform="translate(264.4,56.9) scale(1.05,1)" font-size="15.5" text-anchor="middle">25</text>
<path d="M247.3,84.5 L247.5,87.3 L248.5,89 L250,89.9 L251.5,89 L253,89.9 L254.5,90.4 L256,90.8 L257.5,89.9 L259,89 L260.5,87.7 L261.5,86.8 L263,88.1 L264.5,87.3 L266,87.7 L267.5,86.8 L269,86.4 L270.5,85.5 L272,84.2 L273.5,85.5 L275,88.1 L276.5,85.5 L278,82.8 L279.5,79.7 L281,78.4 L282.5,76.2 L284,80.2 L285.5,86.4 L287,82.8 L288.5,81.5 L290,82.5 L291.2,86.9 L293,78.5 L294.7,73.1 L296,78.5 L298,83.9 L300,79.4 L301.5,78.5 L303,83.9 L304,89.3 L305,88.08 L306,85.7 L307,86.57 L308,86.6 L309.5,90.5 L310.8,91.5 L311.8,90.2 L312.5,84 L313.2,75 L313.8,62 L314.4,52 L315,46.8 L315.6,52 L316.3,62 L317.2,74 L318.3,82 L319.5,88 L320.5,92.5 L322,93.2 L323.3,91.5 L324.5,89.3 L325.6,91.5 L326.3,93.3 L327.4,93.6 L328.5,93.6 L329.6,93.6 L330.7,93.7 L330.7,93.9 L246.5,93.9 Z" fill="#d6d6d6" stroke="none" stroke-width="1"/>
<path d="M247.3,84.5 L247.5,87.3 L248.5,89 L250,89.9 L251.5,89 L253,89.9 L254.5,90.4 L256,90.8 L257.5,89.9 L259,89 L260.5,87.7 L261.5,86.8 L263,88.1 L264.5,87.3 L266,87.7 L267.5,86.8 L269,86.4 L270.5,85.5 L272,84.2 L273.5,85.5 L275,88.1 L276.5,85.5 L278,82.8 L279.5,79.7 L281,78.4 L282.5,76.2 L284,80.2 L285.5,86.4 L287,82.8 L288.5,81.5 L290,82.5 L291.2,86.9 L293,78.5 L294.7,73.1 L296,78.5 L298,83.9 L300,79.4 L301.5,78.5 L303,83.9 L304,89.3 L305,88.08 L306,85.7 L307,86.57 L308,86.6 L309.5,90.5 L310.8,91.5 L311.8,90.2 L312.5,84 L313.2,75 L313.8,62 L314.4,52 L315,46.8 L315.6,52 L316.3,62 L317.2,74 L318.3,82 L319.5,88 L320.5,92.5 L322,93.2 L323.3,91.5 L324.5,89.3 L325.6,91.5 L326.3,93.3 L327.4,93.6 L328.5,93.6 L329.6,93.6 L330.7,93.7" fill="none" stroke="#111" stroke-width="1.0"/>
<path d="M246.5,93.9 V36.3 H330.7 V93.9 Z" fill="none" stroke="#333" stroke-width="1.1"/>
<line x1="242.3" y1="37.4" x2="246.5" y2="37.4" stroke="#222" stroke-width="0.9"/>
<line x1="243.9" y1="40.07" x2="246.5" y2="40.07" stroke="#222" stroke-width="0.9"/>
<line x1="243.9" y1="42.74" x2="246.5" y2="42.74" stroke="#222" stroke-width="0.9"/>
<line x1="243.9" y1="45.41" x2="246.5" y2="45.41" stroke="#222" stroke-width="0.9"/>
<line x1="243.9" y1="48.08" x2="246.5" y2="48.08" stroke="#222" stroke-width="0.9"/>
<line x1="242.3" y1="50.75" x2="246.5" y2="50.75" stroke="#222" stroke-width="0.9"/>
<line x1="243.9" y1="53.42" x2="246.5" y2="53.42" stroke="#222" stroke-width="0.9"/>
<line x1="243.9" y1="56.09" x2="246.5" y2="56.09" stroke="#222" stroke-width="0.9"/>
<line x1="243.9" y1="58.76" x2="246.5" y2="58.76" stroke="#222" stroke-width="0.9"/>
<line x1="243.9" y1="61.43" x2="246.5" y2="61.43" stroke="#222" stroke-width="0.9"/>
<line x1="242.3" y1="64.1" x2="246.5" y2="64.1" stroke="#222" stroke-width="0.9"/>
<line x1="243.9" y1="66.77" x2="246.5" y2="66.77" stroke="#222" stroke-width="0.9"/>
<line x1="243.9" y1="69.44" x2="246.5" y2="69.44" stroke="#222" stroke-width="0.9"/>
<line x1="243.9" y1="72.11" x2="246.5" y2="72.11" stroke="#222" stroke-width="0.9"/>
<line x1="243.9" y1="74.78" x2="246.5" y2="74.78" stroke="#222" stroke-width="0.9"/>
<line x1="242.3" y1="77.45" x2="246.5" y2="77.45" stroke="#222" stroke-width="0.9"/>
<line x1="243.9" y1="80.12" x2="246.5" y2="80.12" stroke="#222" stroke-width="0.9"/>
<line x1="243.9" y1="82.79" x2="246.5" y2="82.79" stroke="#222" stroke-width="0.9"/>
<line x1="243.9" y1="85.46" x2="246.5" y2="85.46" stroke="#222" stroke-width="0.9"/>
<line x1="243.9" y1="88.13" x2="246.5" y2="88.13" stroke="#222" stroke-width="0.9"/>
<line x1="242.3" y1="90.8" x2="246.5" y2="90.8" stroke="#222" stroke-width="0.9"/>
<line x1="243.9" y1="93.47" x2="246.5" y2="93.47" stroke="#222" stroke-width="0.9"/>
<line x1="246.5" y1="93.9" x2="246.5" y2="98.3" stroke="#222" stroke-width="0.9"/>
<line x1="252.84" y1="93.9" x2="252.84" y2="96.1" stroke="#222" stroke-width="0.9"/>
<line x1="256.54" y1="93.9" x2="256.54" y2="96.1" stroke="#222" stroke-width="0.9"/>
<line x1="259.17" y1="93.9" x2="259.17" y2="96.1" stroke="#222" stroke-width="0.9"/>
<line x1="261.21" y1="93.9" x2="261.21" y2="96.1" stroke="#222" stroke-width="0.9"/>
<line x1="262.88" y1="93.9" x2="262.88" y2="96.1" stroke="#222" stroke-width="0.9"/>
<line x1="264.29" y1="93.9" x2="264.29" y2="96.1" stroke="#222" stroke-width="0.9"/>
<line x1="265.51" y1="93.9" x2="265.51" y2="96.1" stroke="#222" stroke-width="0.9"/>
<line x1="266.59" y1="93.9" x2="266.59" y2="96.1" stroke="#222" stroke-width="0.9"/>
<line x1="267.55" y1="93.9" x2="267.55" y2="98.3" stroke="#222" stroke-width="0.9"/>
<line x1="273.89" y1="93.9" x2="273.89" y2="96.1" stroke="#222" stroke-width="0.9"/>
<line x1="277.59" y1="93.9" x2="277.59" y2="96.1" stroke="#222" stroke-width="0.9"/>
<line x1="280.22" y1="93.9" x2="280.22" y2="96.1" stroke="#222" stroke-width="0.9"/>
<line x1="282.26" y1="93.9" x2="282.26" y2="96.1" stroke="#222" stroke-width="0.9"/>
<line x1="283.93" y1="93.9" x2="283.93" y2="96.1" stroke="#222" stroke-width="0.9"/>
<line x1="285.34" y1="93.9" x2="285.34" y2="96.1" stroke="#222" stroke-width="0.9"/>
<line x1="286.56" y1="93.9" x2="286.56" y2="96.1" stroke="#222" stroke-width="0.9"/>
<line x1="287.64" y1="93.9" x2="287.64" y2="96.1" stroke="#222" stroke-width="0.9"/>
<line x1="288.6" y1="93.9" x2="288.6" y2="98.3" stroke="#222" stroke-width="0.9"/>
<line x1="294.94" y1="93.9" x2="294.94" y2="96.1" stroke="#222" stroke-width="0.9"/>
<line x1="298.64" y1="93.9" x2="298.64" y2="96.1" stroke="#222" stroke-width="0.9"/>
<line x1="301.27" y1="93.9" x2="301.27" y2="96.1" stroke="#222" stroke-width="0.9"/>
<line x1="303.31" y1="93.9" x2="303.31" y2="96.1" stroke="#222" stroke-width="0.9"/>
<line x1="304.98" y1="93.9" x2="304.98" y2="96.1" stroke="#222" stroke-width="0.9"/>
<line x1="306.39" y1="93.9" x2="306.39" y2="96.1" stroke="#222" stroke-width="0.9"/>
<line x1="307.61" y1="93.9" x2="307.61" y2="96.1" stroke="#222" stroke-width="0.9"/>
<line x1="308.69" y1="93.9" x2="308.69" y2="96.1" stroke="#222" stroke-width="0.9"/>
<line x1="309.65" y1="93.9" x2="309.65" y2="98.3" stroke="#222" stroke-width="0.9"/>
<line x1="315.99" y1="93.9" x2="315.99" y2="96.1" stroke="#222" stroke-width="0.9"/>
<line x1="319.69" y1="93.9" x2="319.69" y2="96.1" stroke="#222" stroke-width="0.9"/>
<line x1="322.32" y1="93.9" x2="322.32" y2="96.1" stroke="#222" stroke-width="0.9"/>
<line x1="324.36" y1="93.9" x2="324.36" y2="96.1" stroke="#222" stroke-width="0.9"/>
<line x1="326.03" y1="93.9" x2="326.03" y2="96.1" stroke="#222" stroke-width="0.9"/>
<line x1="327.44" y1="93.9" x2="327.44" y2="96.1" stroke="#222" stroke-width="0.9"/>
<line x1="328.66" y1="93.9" x2="328.66" y2="96.1" stroke="#222" stroke-width="0.9"/>
<line x1="329.74" y1="93.9" x2="329.74" y2="96.1" stroke="#222" stroke-width="0.9"/>
<line x1="330.7" y1="93.9" x2="330.7" y2="98.3" stroke="#222" stroke-width="0.9"/>
<line x1="253.3" y1="64.7" x2="269.3" y2="64.7" stroke="#111" stroke-width="1.0"/>
<path d="M248.3,64.7 L255.7,61 L255.7,68.4 Z" fill="#000" stroke="none" stroke-width="1"/>
<path d="M274.3,64.7 L266.9,61 L266.9,68.4 Z" fill="#000" stroke="none" stroke-width="1"/>
<text x="393.8" y="28.4" font-size="12.8" text-anchor="middle" font-weight="normal" >Mat HY Exo</text>
<text transform="translate(371,56.9) scale(1.05,1)" font-size="15.5" text-anchor="middle">59</text>
<path d="M352.3,64 L352.4,89.5 L353.6,89.7 L354.55,89.46 L355.5,89.4 L356.5,89.37 L357.5,88.6 L358.8,87.1 L360,89 L361.3,86.5 L362.6,85.2 L363.9,85.8 L365.2,84.5 L366.5,82.6 L367.7,78.1 L368.4,72 L369.1,66.8 L369.8,74 L371,79.2 L372,75.8 L373.5,71.8 L375,75.2 L376.5,71.8 L378,78.5 L379,77.2 L380.5,80.5 L382,78.5 L384,80.5 L385.5,83.2 L387,81.9 L388.5,83.9 L390,82.2 L391,82.58 L392,83.9 L393.5,81.9 L395,81.2 L396,83.42 L397,85.2 L398.5,87.2 L399.5,84.56 L400.5,83.2 L402,81.2 L403.5,85.9 L405,88.6 L406.5,84.5 L408,85.9 L409.5,90.6 L411,86.6 L412,85.9 L413,83.9 L414.5,81.9 L416,86.6 L417.5,89.9 L418.5,83.9 L419.5,76.5 L420.5,75.8 L421.3,76.5 L422,80.5 L423,87.2 L424,92.6 L425,93.7 L425.97,93.6 L426.95,93.23 L427.92,93.6 L428.89,93.6 L429.86,93.06 L430.84,93.6 L431.81,93.59 L432.78,93.6 L433.75,93.6 L434.73,93.6 L435.7,93.7 L435.8,93.9 L351.6,93.9 Z" fill="#d6d6d6" stroke="none" stroke-width="1"/>
<path d="M352.3,64 L352.4,89.5 L353.6,89.7 L354.55,89.46 L355.5,89.4 L356.5,89.37 L357.5,88.6 L358.8,87.1 L360,89 L361.3,86.5 L362.6,85.2 L363.9,85.8 L365.2,84.5 L366.5,82.6 L367.7,78.1 L368.4,72 L369.1,66.8 L369.8,74 L371,79.2 L372,75.8 L373.5,71.8 L375,75.2 L376.5,71.8 L378,78.5 L379,77.2 L380.5,80.5 L382,78.5 L384,80.5 L385.5,83.2 L387,81.9 L388.5,83.9 L390,82.2 L391,82.58 L392,83.9 L393.5,81.9 L395,81.2 L396,83.42 L397,85.2 L398.5,87.2 L399.5,84.56 L400.5,83.2 L402,81.2 L403.5,85.9 L405,88.6 L406.5,84.5 L408,85.9 L409.5,90.6 L411,86.6 L412,85.9 L413,83.9 L414.5,81.9 L416,86.6 L417.5,89.9 L418.5,83.9 L419.5,76.5 L420.5,75.8 L421.3,76.5 L422,80.5 L423,87.2 L424,92.6 L425,93.7 L425.97,93.6 L426.95,93.23 L427.92,93.6 L428.89,93.6 L429.86,93.06 L430.84,93.6 L431.81,93.59 L432.78,93.6 L433.75,93.6 L434.73,93.6 L435.7,93.7" fill="none" stroke="#111" stroke-width="1.0"/>
<path d="M351.6,93.9 V36.3 H435.8 V93.9 Z" fill="none" stroke="#333" stroke-width="1.1"/>
<line x1="347.4" y1="37.4" x2="351.6" y2="37.4" stroke="#222" stroke-width="0.9"/>
<line x1="349" y1="40.07" x2="351.6" y2="40.07" stroke="#222" stroke-width="0.9"/>
<line x1="349" y1="42.74" x2="351.6" y2="42.74" stroke="#222" stroke-width="0.9"/>
<line x1="349" y1="45.41" x2="351.6" y2="45.41" stroke="#222" stroke-width="0.9"/>
<line x1="349" y1="48.08" x2="351.6" y2="48.08" stroke="#222" stroke-width="0.9"/>
<line x1="347.4" y1="50.75" x2="351.6" y2="50.75" stroke="#222" stroke-width="0.9"/>
<line x1="349" y1="53.42" x2="351.6" y2="53.42" stroke="#222" stroke-width="0.9"/>
<line x1="349" y1="56.09" x2="351.6" y2="56.09" stroke="#222" stroke-width="0.9"/>
<line x1="349" y1="58.76" x2="351.6" y2="58.76" stroke="#222" stroke-width="0.9"/>
<line x1="349" y1="61.43" x2="351.6" y2="61.43" stroke="#222" stroke-width="0.9"/>
<line x1="347.4" y1="64.1" x2="351.6" y2="64.1" stroke="#222" stroke-width="0.9"/>
<line x1="349" y1="66.77" x2="351.6" y2="66.77" stroke="#222" stroke-width="0.9"/>
<line x1="349" y1="69.44" x2="351.6" y2="69.44" stroke="#222" stroke-width="0.9"/>
<line x1="349" y1="72.11" x2="351.6" y2="72.11" stroke="#222" stroke-width="0.9"/>
<line x1="349" y1="74.78" x2="351.6" y2="74.78" stroke="#222" stroke-width="0.9"/>
<line x1="347.4" y1="77.45" x2="351.6" y2="77.45" stroke="#222" stroke-width="0.9"/>
<line x1="349" y1="80.12" x2="351.6" y2="80.12" stroke="#222" stroke-width="0.9"/>
<line x1="349" y1="82.79" x2="351.6" y2="82.79" stroke="#222" stroke-width="0.9"/>
<line x1="349" y1="85.46" x2="351.6" y2="85.46" stroke="#222" stroke-width="0.9"/>
<line x1="349" y1="88.13" x2="351.6" y2="88.13" stroke="#222" stroke-width="0.9"/>
<line x1="347.4" y1="90.8" x2="351.6" y2="90.8" stroke="#222" stroke-width="0.9"/>
<line x1="349" y1="93.47" x2="351.6" y2="93.47" stroke="#222" stroke-width="0.9"/>
<line x1="351.6" y1="93.9" x2="351.6" y2="98.3" stroke="#222" stroke-width="0.9"/>
<line x1="357.94" y1="93.9" x2="357.94" y2="96.1" stroke="#222" stroke-width="0.9"/>
<line x1="361.64" y1="93.9" x2="361.64" y2="96.1" stroke="#222" stroke-width="0.9"/>
<line x1="364.27" y1="93.9" x2="364.27" y2="96.1" stroke="#222" stroke-width="0.9"/>
<line x1="366.31" y1="93.9" x2="366.31" y2="96.1" stroke="#222" stroke-width="0.9"/>
<line x1="367.98" y1="93.9" x2="367.98" y2="96.1" stroke="#222" stroke-width="0.9"/>
<line x1="369.39" y1="93.9" x2="369.39" y2="96.1" stroke="#222" stroke-width="0.9"/>
<line x1="370.61" y1="93.9" x2="370.61" y2="96.1" stroke="#222" stroke-width="0.9"/>
<line x1="371.69" y1="93.9" x2="371.69" y2="96.1" stroke="#222" stroke-width="0.9"/>
<line x1="372.65" y1="93.9" x2="372.65" y2="98.3" stroke="#222" stroke-width="0.9"/>
<line x1="378.99" y1="93.9" x2="378.99" y2="96.1" stroke="#222" stroke-width="0.9"/>
<line x1="382.69" y1="93.9" x2="382.69" y2="96.1" stroke="#222" stroke-width="0.9"/>
<line x1="385.32" y1="93.9" x2="385.32" y2="96.1" stroke="#222" stroke-width="0.9"/>
<line x1="387.36" y1="93.9" x2="387.36" y2="96.1" stroke="#222" stroke-width="0.9"/>
<line x1="389.03" y1="93.9" x2="389.03" y2="96.1" stroke="#222" stroke-width="0.9"/>
<line x1="390.44" y1="93.9" x2="390.44" y2="96.1" stroke="#222" stroke-width="0.9"/>
<line x1="391.66" y1="93.9" x2="391.66" y2="96.1" stroke="#222" stroke-width="0.9"/>
<line x1="392.74" y1="93.9" x2="392.74" y2="96.1" stroke="#222" stroke-width="0.9"/>
<line x1="393.7" y1="93.9" x2="393.7" y2="98.3" stroke="#222" stroke-width="0.9"/>
<line x1="400.04" y1="93.9" x2="400.04" y2="96.1" stroke="#222" stroke-width="0.9"/>
<line x1="403.74" y1="93.9" x2="403.74" y2="96.1" stroke="#222" stroke-width="0.9"/>
<line x1="406.37" y1="93.9" x2="406.37" y2="96.1" stroke="#222" stroke-width="0.9"/>
<line x1="408.41" y1="93.9" x2="408.41" y2="96.1" stroke="#222" stroke-width="0.9"/>
<line x1="410.08" y1="93.9" x2="410.08" y2="96.1" stroke="#222" stroke-width="0.9"/>
<line x1="411.49" y1="93.9" x2="411.49" y2="96.1" stroke="#222" stroke-width="0.9"/>
<line x1="412.71" y1="93.9" x2="412.71" y2="96.1" stroke="#222" stroke-width="0.9"/>
<line x1="413.79" y1="93.9" x2="413.79" y2="96.1" stroke="#222" stroke-width="0.9"/>
<line x1="414.75" y1="93.9" x2="414.75" y2="98.3" stroke="#222" stroke-width="0.9"/>
<line x1="421.09" y1="93.9" x2="421.09" y2="96.1" stroke="#222" stroke-width="0.9"/>
<line x1="424.79" y1="93.9" x2="424.79" y2="96.1" stroke="#222" stroke-width="0.9"/>
<line x1="427.42" y1="93.9" x2="427.42" y2="96.1" stroke="#222" stroke-width="0.9"/>
<line x1="429.46" y1="93.9" x2="429.46" y2="96.1" stroke="#222" stroke-width="0.9"/>
<line x1="431.13" y1="93.9" x2="431.13" y2="96.1" stroke="#222" stroke-width="0.9"/>
<line x1="432.54" y1="93.9" x2="432.54" y2="96.1" stroke="#222" stroke-width="0.9"/>
<line x1="433.76" y1="93.9" x2="433.76" y2="96.1" stroke="#222" stroke-width="0.9"/>
<line x1="434.84" y1="93.9" x2="434.84" y2="96.1" stroke="#222" stroke-width="0.9"/>
<line x1="435.8" y1="93.9" x2="435.8" y2="98.3" stroke="#222" stroke-width="0.9"/>
<line x1="359.5" y1="64.3" x2="375.4" y2="64.3" stroke="#111" stroke-width="1.0"/>
<path d="M354.5,64.3 L361.9,60.6 L361.9,68 Z" fill="#000" stroke="none" stroke-width="1"/>
<path d="M380.4,64.3 L373,60.6 L373,68 Z" fill="#000" stroke="none" stroke-width="1"/>
<line x1="137.3" y1="101.6" x2="436" y2="101.6" stroke="#444" stroke-width="1.0"/>
<path d="M442.4,101.6 L435.6,98.5 L435.6,104.7 Z" fill="#000" stroke="none" stroke-width="1"/>
<text x="281.2" y="120.8" font-size="12.7" text-anchor="middle" font-weight="normal" >CFSE</text>
<text transform="translate(-0.1,145.0) scale(0.95,1)" font-size="25" font-weight="bold">B</text>
<line x1="41.2" y1="162.2" x2="41.2" y2="297.7" stroke="#a0a0a0" stroke-width="1"/>
<line x1="41.2" y1="297.7" x2="42.5" y2="297.7" stroke="#a0a0a0" stroke-width="0.8"/>
<line x1="41.2" y1="280.76" x2="42.5" y2="280.76" stroke="#a0a0a0" stroke-width="0.8"/>
<line x1="41.2" y1="263.82" x2="42.5" y2="263.82" stroke="#a0a0a0" stroke-width="0.8"/>
<line x1="41.2" y1="246.88" x2="42.5" y2="246.88" stroke="#a0a0a0" stroke-width="0.8"/>
<line x1="41.2" y1="229.94" x2="42.5" y2="229.94" stroke="#a0a0a0" stroke-width="0.8"/>
<line x1="41.2" y1="213" x2="42.5" y2="213" stroke="#a0a0a0" stroke-width="0.8"/>
<line x1="41.2" y1="196.06" x2="42.5" y2="196.06" stroke="#a0a0a0" stroke-width="0.8"/>
<line x1="41.2" y1="179.12" x2="42.5" y2="179.12" stroke="#a0a0a0" stroke-width="0.8"/>
<line x1="41.2" y1="162.18" x2="42.5" y2="162.18" stroke="#a0a0a0" stroke-width="0.8"/>
<text x="35.3" y="168.88" font-size="12.7" text-anchor="end" font-weight="normal" >80</text>
<text x="35.3" y="202.76" font-size="12.7" text-anchor="end" font-weight="normal" >60</text>
<text x="35.3" y="236.64" font-size="12.7" text-anchor="end" font-weight="normal" >40</text>
<text x="35.3" y="270.52" font-size="12.7" text-anchor="end" font-weight="normal" >20</text>
<text x="33.2" y="311.7" font-size="12.7" text-anchor="middle" font-weight="normal" >0</text>
<line x1="56.5" y1="297.7" x2="198" y2="297.7" stroke="#a0a0a0" stroke-width="1.1"/>
<line x1="45.5" y1="296.2" x2="52.5" y2="296.2" stroke="#a0a0a0" stroke-width="1.1"/>
<line x1="101.5" y1="297.7" x2="101.5" y2="299.4" stroke="#a0a0a0" stroke-width="1"/>
<line x1="161.5" y1="297.7" x2="161.5" y2="299.4" stroke="#a0a0a0" stroke-width="1"/>
<text x="103.2" y="313.7" font-size="12.7" text-anchor="middle" font-weight="normal" >1</text>
<text x="165.8" y="313.7" font-size="12.7" text-anchor="middle" font-weight="normal" >10</text>
<text x="133.4" y="329.6" font-size="12.7" text-anchor="middle" font-weight="normal" >exosomes (µg/mouse)</text>
<text transform="translate(11,213.4) rotate(-90)" font-size="12.7" text-anchor="middle">% of cells</text>
<line x1="48.1" y1="300.8" x2="52.3" y2="296.1" stroke="#333" stroke-width="1.1"/>
<line x1="51.3" y1="300.8" x2="55.7" y2="295.7" stroke="#333" stroke-width="1.1"/>
<path d="M41.7,297.2 C51.6,286.38 86.4,251.22 101.1,232.3 C115.8,213.38 119.92,190.23 129.9,183.7 C139.88,177.17 154.03,191.02 161,193.1 C167.97,195.18 169.92,195.68 171.7,196.2" fill="none" stroke="#111" stroke-width="1.2"/>
<path d="M41.7,297.2 C56.5,294.42 110.7,289.03 130.5,280.5 C150.3,271.97 153.55,253.7 160.5,246 C167.45,238.3 170.25,236.25 172.2,234.3" fill="none" stroke="#111" stroke-width="1.2"/>
<line x1="101.1" y1="224" x2="101.1" y2="239.2" stroke="#222" stroke-width="1.1"/>
<line x1="99.7" y1="224" x2="102.5" y2="224" stroke="#222" stroke-width="1.1"/>
<line x1="99.7" y1="239.2" x2="102.5" y2="239.2" stroke="#222" stroke-width="1.1"/>
<line x1="129.9" y1="181" x2="129.9" y2="188.4" stroke="#222" stroke-width="1.1"/>
<line x1="128.5" y1="181" x2="131.3" y2="181" stroke="#222" stroke-width="1.1"/>
<line x1="128.5" y1="188.4" x2="131.3" y2="188.4" stroke="#222" stroke-width="1.1"/>
<line x1="161" y1="187.3" x2="161" y2="200.4" stroke="#222" stroke-width="1.1"/>
<line x1="159.6" y1="187.3" x2="162.4" y2="187.3" stroke="#222" stroke-width="1.1"/>
<line x1="159.6" y1="200.4" x2="162.4" y2="200.4" stroke="#222" stroke-width="1.1"/>
<line x1="171.7" y1="185" x2="171.7" y2="207.4" stroke="#555" stroke-width="1.4"/>
<line x1="170.3" y1="185" x2="173.1" y2="185" stroke="#555" stroke-width="1.4"/>
<line x1="170.3" y1="207.4" x2="173.1" y2="207.4" stroke="#555" stroke-width="1.4"/>
<line x1="130.5" y1="274.3" x2="130.5" y2="285.8" stroke="#222" stroke-width="1.1"/>
<line x1="129.1" y1="274.3" x2="131.9" y2="274.3" stroke="#222" stroke-width="1.1"/>
<line x1="129.1" y1="285.8" x2="131.9" y2="285.8" stroke="#222" stroke-width="1.1"/>
<line x1="160.5" y1="241.5" x2="160.5" y2="251" stroke="#222" stroke-width="1.1"/>
<line x1="159.1" y1="241.5" x2="161.9" y2="241.5" stroke="#222" stroke-width="1.1"/>
<line x1="159.1" y1="251" x2="161.9" y2="251" stroke="#222" stroke-width="1.1"/>
<line x1="172.2" y1="227.4" x2="172.2" y2="240.5" stroke="#222" stroke-width="1.1"/>
<line x1="170.8" y1="227.4" x2="173.6" y2="227.4" stroke="#222" stroke-width="1.1"/>
<line x1="170.8" y1="240.5" x2="173.6" y2="240.5" stroke="#222" stroke-width="1.1"/>
<rect x="98.5" y="229.7" width="5.2" height="5.2" fill="#000"/>
<rect x="127.3" y="181.1" width="5.2" height="5.2" fill="#000"/>
<rect x="158.4" y="190.5" width="5.2" height="5.2" fill="#000"/>
<rect x="169.1" y="193.6" width="5.2" height="5.2" fill="#000"/>
<path d="M41.7,293.3 L45.6,297.2 L41.7,301.1 L37.8,297.2 Z" fill="#fff" stroke="#000" stroke-width="1.2"/>
<path d="M130.5,276.6 L134.4,280.5 L130.5,284.4 L126.6,280.5 Z" fill="#fff" stroke="#000" stroke-width="1.2"/>
<path d="M160.5,242.1 L164.4,246 L160.5,249.9 L156.6,246 Z" fill="#fff" stroke="#000" stroke-width="1.2"/>
<path d="M172.2,230.4 L176.1,234.3 L172.2,238.2 L168.3,234.3 Z" fill="#fff" stroke="#000" stroke-width="1.2"/>
<line x1="174" y1="292.3" x2="174" y2="293.5" stroke="#000" stroke-width="1.2"/>
<path d="M174,293.4 L177.7,299.6 L170.3,299.6 Z" fill="#fff" stroke="#000" stroke-width="1.2"/>
<text transform="translate(197.2,144.7) scale(0.96,1)" font-size="25" font-weight="bold">C</text>
<line x1="258.2" y1="144.5" x2="258.2" y2="296.6" stroke="#a0a0a0" stroke-width="1.1"/>
<line x1="256.8" y1="296.6" x2="507.8" y2="296.6" stroke="#a0a0a0" stroke-width="1.1"/>
<line x1="256.8" y1="296.6" x2="258.2" y2="296.6" stroke="#a0a0a0" stroke-width="0.9"/>
<line x1="256.8" y1="281.38" x2="258.2" y2="281.38" stroke="#a0a0a0" stroke-width="0.9"/>
<line x1="256.8" y1="266.16" x2="258.2" y2="266.16" stroke="#a0a0a0" stroke-width="0.9"/>
<line x1="256.8" y1="250.94" x2="258.2" y2="250.94" stroke="#a0a0a0" stroke-width="0.9"/>
<line x1="256.8" y1="235.72" x2="258.2" y2="235.72" stroke="#a0a0a0" stroke-width="0.9"/>
<line x1="256.8" y1="220.5" x2="258.2" y2="220.5" stroke="#a0a0a0" stroke-width="0.9"/>
<line x1="256.8" y1="205.28" x2="258.2" y2="205.28" stroke="#a0a0a0" stroke-width="0.9"/>
<line x1="256.8" y1="190.06" x2="258.2" y2="190.06" stroke="#a0a0a0" stroke-width="0.9"/>
<line x1="256.8" y1="174.84" x2="258.2" y2="174.84" stroke="#a0a0a0" stroke-width="0.9"/>
<line x1="256.8" y1="159.62" x2="258.2" y2="159.62" stroke="#a0a0a0" stroke-width="0.9"/>
<line x1="256.8" y1="144.4" x2="258.2" y2="144.4" stroke="#a0a0a0" stroke-width="0.9"/>
<line x1="258.2" y1="296.6" x2="258.2" y2="299.6" stroke="#a0a0a0" stroke-width="1"/>
<line x1="293.85" y1="296.6" x2="293.85" y2="299.6" stroke="#a0a0a0" stroke-width="1"/>
<line x1="329.5" y1="296.6" x2="329.5" y2="299.6" stroke="#a0a0a0" stroke-width="1"/>
<line x1="365.15" y1="296.6" x2="365.15" y2="299.6" stroke="#a0a0a0" stroke-width="1"/>
<line x1="400.8" y1="296.6" x2="400.8" y2="299.6" stroke="#a0a0a0" stroke-width="1"/>
<line x1="436.45" y1="296.6" x2="436.45" y2="299.6" stroke="#a0a0a0" stroke-width="1"/>
<line x1="472.1" y1="296.6" x2="472.1" y2="299.6" stroke="#a0a0a0" stroke-width="1"/>
<line x1="507.75" y1="296.6" x2="507.75" y2="299.6" stroke="#a0a0a0" stroke-width="1"/>
<text x="249.6" y="148.3" font-size="12.7" text-anchor="end" font-weight="normal" >100</text>
<text x="249.6" y="178.74" font-size="12.7" text-anchor="end" font-weight="normal" >80</text>
<text x="249.6" y="209.18" font-size="12.7" text-anchor="end" font-weight="normal" >60</text>
<text x="249.6" y="239.62" font-size="12.7" text-anchor="end" font-weight="normal" >40</text>
<text x="249.6" y="270.06" font-size="12.7" text-anchor="end" font-weight="normal" >20</text>
<text x="255.9" y="315.9" font-size="12.7" text-anchor="start" font-weight="normal" >0</text>
<text x="291.55" y="315.9" font-size="12.7" text-anchor="start" font-weight="normal" >5</text>
<text x="327.2" y="315.9" font-size="12.7" text-anchor="start" font-weight="normal" >10</text>
<text x="362.85" y="315.9" font-size="12.7" text-anchor="start" font-weight="normal" >15</text>
<text x="398.5" y="315.9" font-size="12.7" text-anchor="start" font-weight="normal" >20</text>
<text x="434.15" y="315.9" font-size="12.7" text-anchor="start" font-weight="normal" >25</text>
<text x="469.8" y="315.9" font-size="12.7" text-anchor="start" font-weight="normal" >30</text>
<text x="505.45" y="315.9" font-size="12.7" text-anchor="start" font-weight="normal" >35</text>
<text x="390.9" y="330.6" font-size="12.7" text-anchor="middle" font-weight="normal" >days</text>
<text transform="translate(226.5,199.2) rotate(-90)" font-size="12.7" text-anchor="middle">% graft survival</text>
<path d="M258.8,144.5 L329.2,144.5 L329.2,161.2 L343.9,161.2 L343.9,194.9 L357.5,194.9 L357.7,245.8 L386,245.8 L386.4,278.8 L414.9,278.8 L414.9,296.4 L427.8,296.4 L443.6,296.4" fill="none" stroke="#111" stroke-width="1.15"/>
<path d="M258.8,144.5 L372.3,144.4 L372.3,209.5 L415.5,209.5 L415.5,252.8 L429.8,252.8 L429.8,274.2 L443.6,274.2 L443.6,296.4 L486.3,296.4" fill="none" stroke="#111" stroke-width="1.15"/>
<path d="M258.8,144.5 L386.6,144.4 L386.6,182.9 L401,182.9 L401,220 L429.3,220 L429.3,239.4 L457.6,239.4 L457.6,257.8 L486.3,257.8 L486.3,296.4" fill="none" stroke="#111" stroke-width="1.15"/>
<rect x="256" y="141.7" width="5.6" height="5.6" fill="#000"/>
<rect x="326.4" y="141.7" width="5.6" height="5.6" fill="#000"/>
<rect x="326.4" y="158.4" width="5.6" height="5.6" fill="#000"/>
<rect x="341.1" y="158.4" width="5.6" height="5.6" fill="#000"/>
<rect x="341.1" y="192.1" width="5.6" height="5.6" fill="#000"/>
<rect x="354.7" y="192.1" width="5.6" height="5.6" fill="#000"/>
<rect x="354.9" y="243" width="5.6" height="5.6" fill="#000"/>
<rect x="383.2" y="243" width="5.6" height="5.6" fill="#000"/>
<rect x="383.6" y="276" width="5.6" height="5.6" fill="#000"/>
<rect x="412.1" y="276" width="5.6" height="5.6" fill="#000"/>
<rect x="425" y="293.6" width="5.6" height="5.6" fill="#000"/>
<path d="M372.3,140.4 L376.3,144.4 L372.3,148.4 L368.3,144.4 Z" fill="#fff" stroke="#000" stroke-width="1.3"/>
<path d="M372.3,205.5 L376.3,209.5 L372.3,213.5 L368.3,209.5 Z" fill="#fff" stroke="#000" stroke-width="1.3"/>
<path d="M415.5,205.5 L419.5,209.5 L415.5,213.5 L411.5,209.5 Z" fill="#fff" stroke="#000" stroke-width="1.3"/>
<path d="M415.5,248.8 L419.5,252.8 L415.5,256.8 L411.5,252.8 Z" fill="#fff" stroke="#000" stroke-width="1.3"/>
<path d="M429.8,248.8 L433.8,252.8 L429.8,256.8 L425.8,252.8 Z" fill="#fff" stroke="#000" stroke-width="1.3"/>
<path d="M429.8,270.2 L433.8,274.2 L429.8,278.2 L425.8,274.2 Z" fill="#fff" stroke="#000" stroke-width="1.3"/>
<path d="M443.6,270.2 L447.6,274.2 L443.6,278.2 L439.6,274.2 Z" fill="#fff" stroke="#000" stroke-width="1.3"/>
<path d="M443.6,292.4 L447.6,296.4 L443.6,300.4 L439.6,296.4 Z" fill="#fff" stroke="#000" stroke-width="1.3"/>
<path d="M386.6,138.2 L390.9,146.6 L382.3,146.6 Z" fill="#000"/>
<path d="M386.6,176.7 L390.9,185.1 L382.3,185.1 Z" fill="#000"/>
<path d="M401,176.7 L405.3,185.1 L396.7,185.1 Z" fill="#000"/>
<path d="M401,213.8 L405.3,222.2 L396.7,222.2 Z" fill="#000"/>
<path d="M429.3,213.8 L433.6,222.2 L425,222.2 Z" fill="#000"/>
<path d="M429.3,233.2 L433.6,241.6 L425,241.6 Z" fill="#000"/>
<path d="M457.6,233.2 L461.9,241.6 L453.3,241.6 Z" fill="#000"/>
<path d="M457.6,251.6 L461.9,260 L453.3,260 Z" fill="#000"/>
<path d="M486.3,251.6 L490.6,260 L482,260 Z" fill="#000"/>
<path d="M486.3,290.2 L490.6,298.6 L482,298.6 Z" fill="#000"/>
</svg>
</body></html>
